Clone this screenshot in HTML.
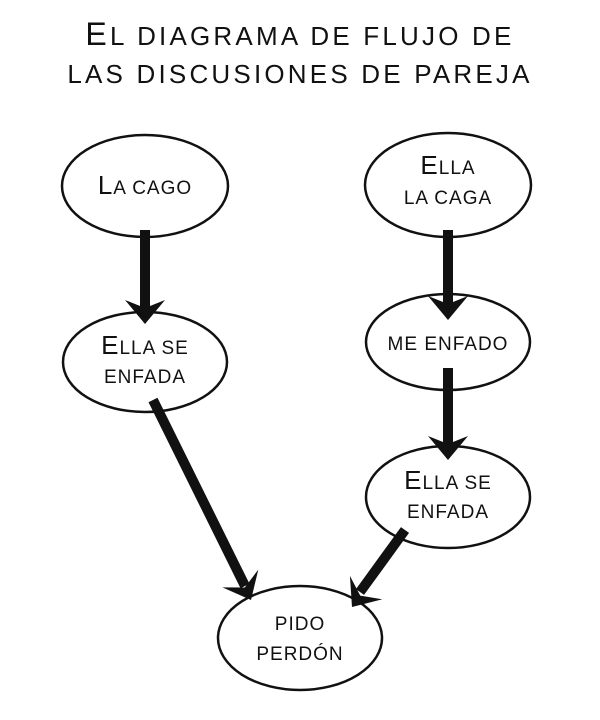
<!DOCTYPE html>
<html><head><meta charset="utf-8"><style>
html,body{margin:0;padding:0;background:#fff;}
svg{display:block}
text{font-family:"Liberation Sans",sans-serif;fill:#111;text-anchor:middle}
.b{font-size:26px}
</style></head><body>
<svg width="600" height="720" viewBox="0 0 600 720" xmlns="http://www.w3.org/2000/svg">
<rect width="600" height="720" fill="#fff"/>
<g font-size="26" letter-spacing="3.2">
<text x="300" y="45"><tspan font-size="32">E</tspan>L DIAGRAMA DE FLUJO DE</text>
<text x="300" y="83">LAS DISCUSIONES DE PAREJA</text>
</g>
<g fill="#fff" stroke="#111" stroke-width="2.5">
<ellipse cx="145" cy="186" rx="83" ry="51"/>
<ellipse cx="448" cy="185" rx="83" ry="52"/>
<ellipse cx="145" cy="362" rx="82" ry="50"/>
<ellipse cx="448" cy="342" rx="82" ry="48"/>
<ellipse cx="448" cy="497" rx="82" ry="51"/>
<ellipse cx="300" cy="638" rx="82" ry="52"/>
</g>
<g font-size="19" letter-spacing="1">
<text x="145" y="194"><tspan class="b">L</tspan>A CAGO</text>
<text x="448" y="174"><tspan class="b">E</tspan>LLA</text>
<text x="448" y="204">LA CAGA</text>
<text x="145" y="354"><tspan class="b">E</tspan>LLA SE</text>
<text x="145" y="383">ENFADA</text>
<text x="448" y="350">ME ENFADO</text>
<text x="448" y="489"><tspan class="b">E</tspan>LLA SE</text>
<text x="448" y="518">ENFADA</text>
<text x="300" y="630">PIDO</text>
<text x="300" y="660">PERDÓN</text>
</g>
<g stroke="#111" stroke-width="10" fill="none">
<line x1="145" y1="230" x2="145" y2="310"/>
<line x1="448" y1="230" x2="448" y2="306"/>
<line x1="448" y1="368" x2="448" y2="446"/>
<line x1="153" y1="400" x2="245" y2="586"/>
<line x1="405" y1="530" x2="360" y2="592"/>
</g>
<g fill="#111">
<polygon points="145,324 125,300 145,308 165,300"/>
<polygon points="448,320 428,296 448,304 468,296"/>
<polygon points="448,460 428,436 448,444 468,436"/>
<g transform="translate(251,600) rotate(-26.3)"><polygon points="0,0 -20,-24 0,-14 20,-24"/></g>
<g transform="translate(352,607) rotate(36)"><polygon points="0,0 -20,-24 0,-14 20,-24"/></g>
</g>
</svg>
</body></html>
